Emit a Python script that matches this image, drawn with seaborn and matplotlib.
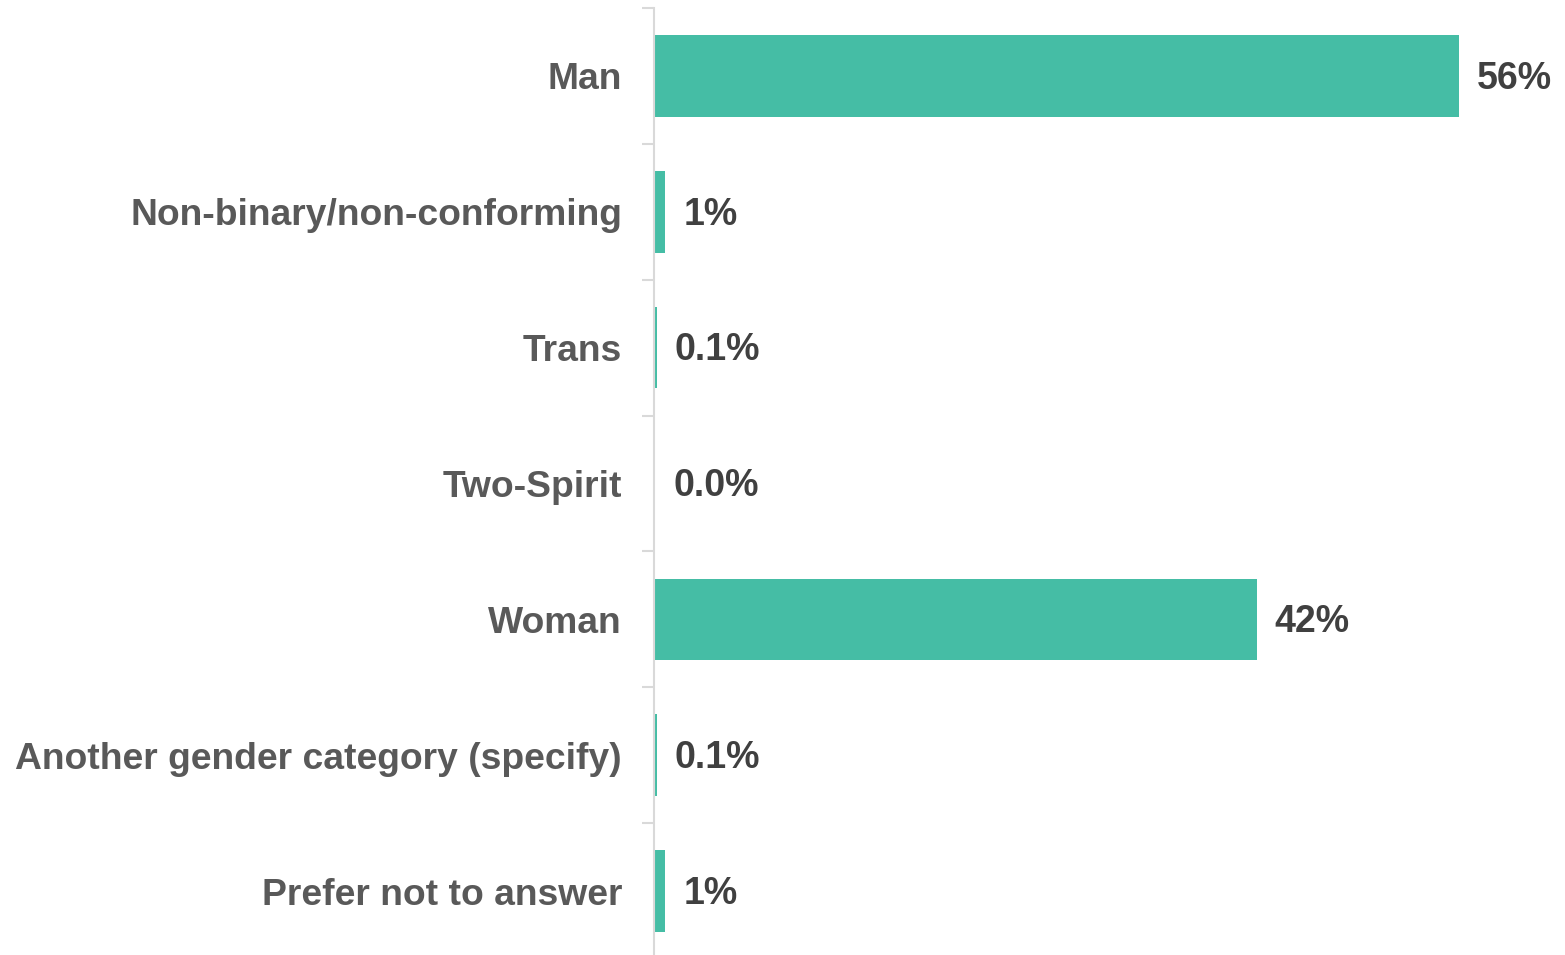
import pandas as pd
import seaborn as sns
import matplotlib.pyplot as plt
import numpy as np

# Data
categories = [
    "Man",
    "Non-binary/non-conforming",
    "Trans",
    "Two-Spirit",
    "Woman",
    "Another gender category (specify)",
    "Prefer not to answer",
]
shares = [56.0, 0.7, 0.1, 0.0, 41.9, 0.1, 0.7]
share_labels = ["56%", "1%", "0.1%", "0.0%", "42%", "0.1%", "1%"]

BAR_COLOR = "#45BDA5"
AXIS_COLOR = "#D9D9D9"


def draw_chart():
    df = pd.DataFrame({"Gender": categories, "Share": shares})

    sns.set_theme(style="white")
    plt.rcParams["font.family"] = ["Liberation Sans", "DejaVu Sans"]

    fig = plt.figure(figsize=(15.65, 9.55), dpi=100)
    ax = fig.add_axes([654 / 1565, 1 - 959 / 955, 1 - 654 / 1565, 951 / 955])

    sns.barplot(
        data=df,
        x="Share",
        y="Gender",
        order=categories,
        color=BAR_COLOR,
        saturation=1,
        width=0.6,
        orient="h",
        linewidth=0,
        ax=ax,
    )

    ax.set_xlim(-0.1, (1565 - 654) / 14.375)
    ax.set_ylim(len(categories) - 0.5, -0.5)

    # value labels, nudged a touch below centre like the original
    for patch, text in zip(ax.patches, share_labels):
        y = patch.get_y() + patch.get_height() / 2
        ax.annotate(
            text,
            xy=(patch.get_width(), y),
            xytext=(13, -2),
            textcoords="offset points",
            ha="left",
            va="center",
            fontsize=27,
            fontweight="bold",
            color="#404040",
        )

    # spines and ticks
    for side in ["top", "right", "bottom"]:
        ax.spines[side].set_visible(False)
    ax.spines["left"].set_color(AXIS_COLOR)
    ax.spines["left"].set_linewidth(1.5)
    ax.set_xticks([])
    ax.set_xlabel("")
    ax.set_ylabel("")
    ax.set_yticks(np.arange(-0.5, len(categories), 1.0), minor=True)
    ax.tick_params(axis="y", which="major", length=0, pad=23,
                   labelsize=26.8, labelcolor="#595959")
    ax.tick_params(axis="y", which="minor", length=9, width=1.5,
                   color=AXIS_COLOR, left=True)
    for lbl in ax.get_yticklabels():
        lbl.set_fontweight("bold")

    fig.savefig("out.png", dpi=100)
    plt.close(fig)


if __name__ == "__main__":
    draw_chart()
